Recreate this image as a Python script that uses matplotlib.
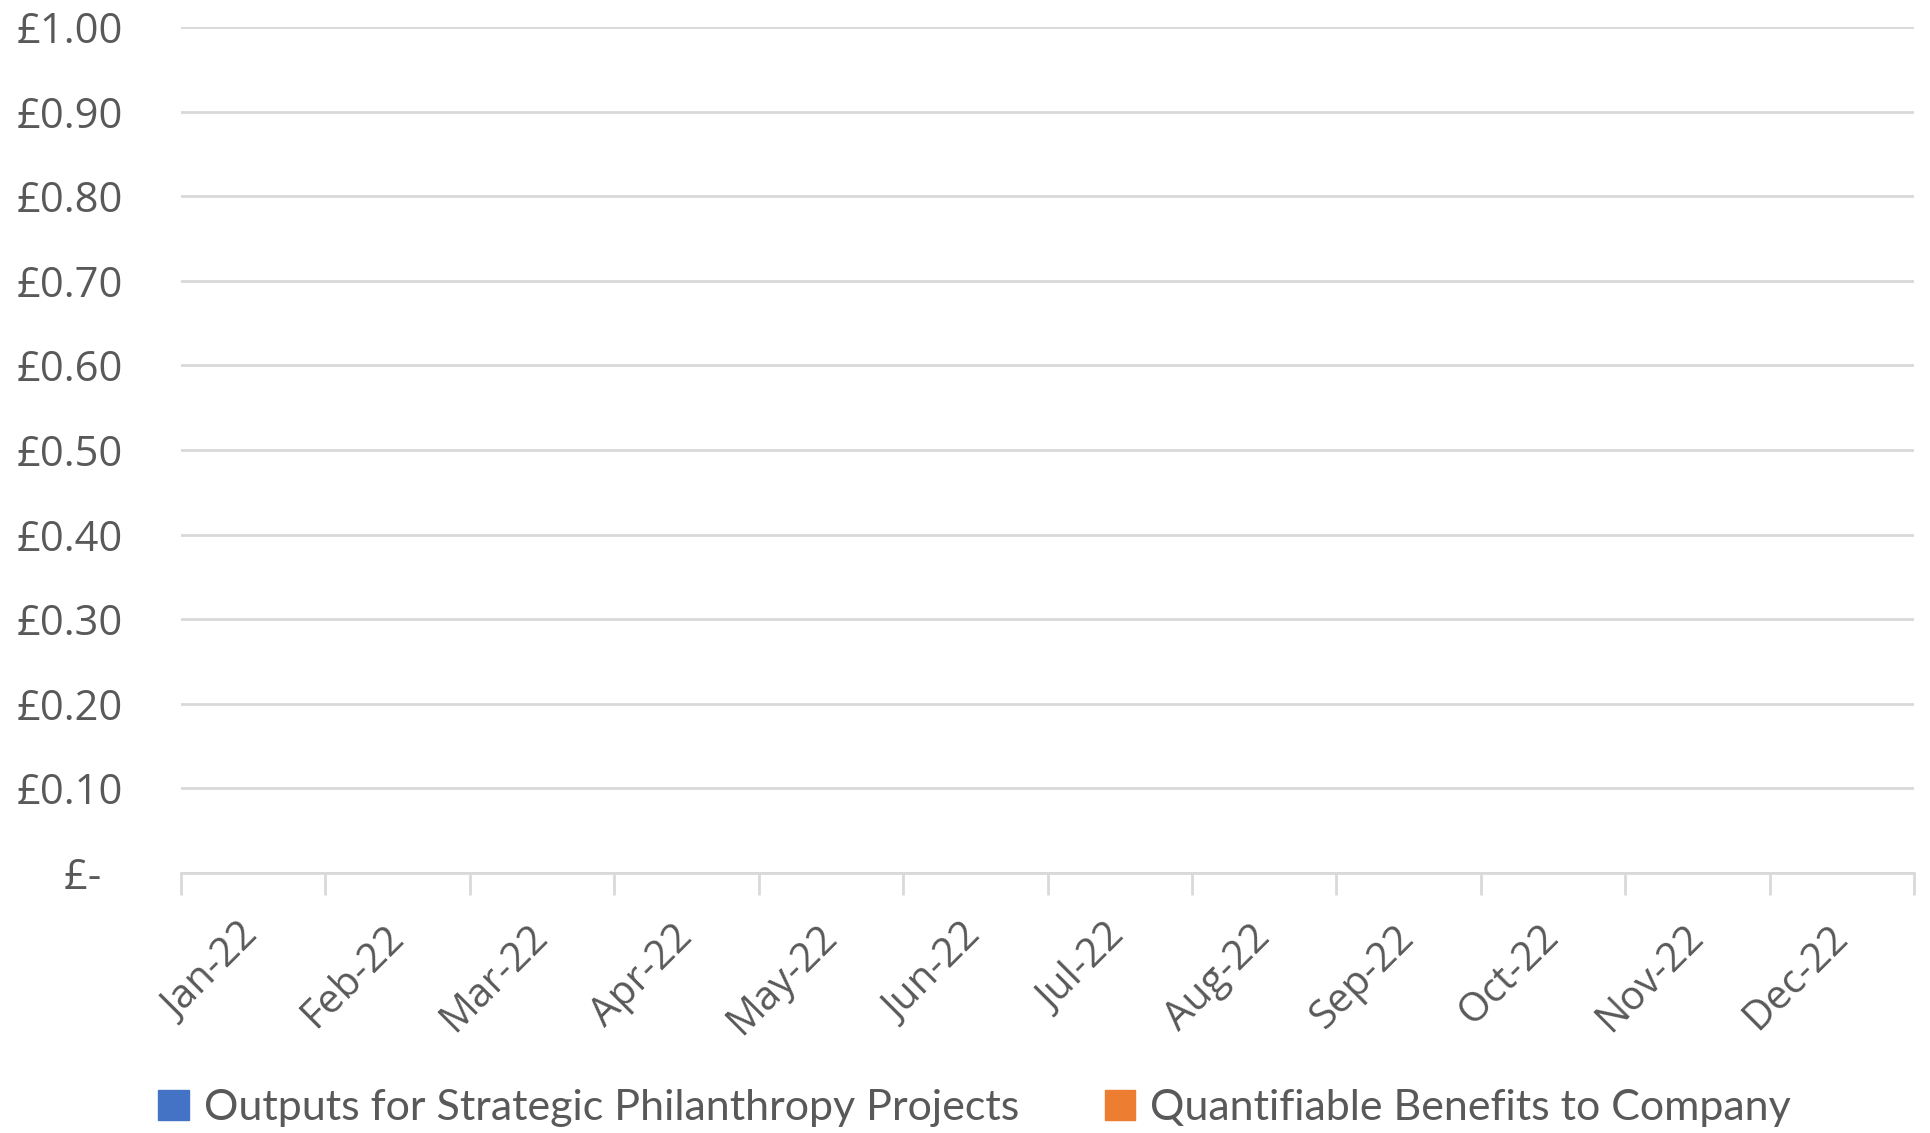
import matplotlib.pyplot as plt
import numpy as np
from matplotlib.patches import Patch
from matplotlib.ticker import FuncFormatter, FixedLocator

months = ["Jan-22", "Feb-22", "Mar-22", "Apr-22", "May-22", "Jun-22",
          "Jul-22", "Aug-22", "Sep-22", "Oct-22", "Nov-22", "Dec-22"]
series_names = ["Outputs for Strategic Philanthropy Projects", "Quantifiable Benefits to Company"]
outputs = [0, 0, 0, 0, 0, 0, 0, 0, 0, 0, 0, 0]
benefits = [0, 0, 0, 0, 0, 0, 0, 0, 0, 0, 0, 0]
colors = ["#4472C4", "#ED7D31"]

text_color = "#595959"
grid_color = "#D9D9D9"

fig = plt.figure(figsize=(19.3, 11.33), dpi=100)
ax = fig.add_axes([181 / 1930, 1 - 873 / 1133, (1914 - 181) / 1930, (873 - 27) / 1133])

x = np.arange(len(months))
w = 0.35
ax.bar(x - w / 2, outputs, w, color=colors[0])
ax.bar(x + w / 2, benefits, w, color=colors[1])

ax.set_xlim(-0.5, len(months) - 0.5)
ax.set_ylim(0, 1.0)
ax.set_yticks(np.arange(0, 1.01, 0.1))


def money(v, pos):
    # accounting style: zero shown as a dash
    if abs(v) < 1e-9:
        return "£-  "
    return f"£{v:.2f}"


ax.yaxis.set_major_formatter(FuncFormatter(money))
ax.grid(axis="y", color=grid_color, linewidth=2)
ax.set_axisbelow(True)

# ticks between categories, labels at centres
ax.xaxis.set_major_locator(FixedLocator(np.arange(-0.5, len(months), 1.0)))
ax.xaxis.set_major_formatter(FuncFormatter(lambda v, p: ""))
ax.xaxis.set_minor_locator(FixedLocator(x))
ax.set_xticklabels(months, minor=True, rotation=45, ha="right", va="center",
                   rotation_mode="anchor", fontsize=29, color=text_color,
                   family="Open Sans")
ax.tick_params(axis="x", which="major", length=16, width=2, color=grid_color)
ax.tick_params(axis="x", which="minor", length=0, pad=42)
ax.tick_params(axis="y", length=0, pad=42, labelsize=30, labelcolor=text_color,
               labelfontfamily="Open Sans")

for s in ["top", "right", "left"]:
    ax.spines[s].set_visible(False)
ax.spines["bottom"].set_color(grid_color)
ax.spines["bottom"].set_linewidth(2)

handles = [Patch(color=c, label=n) for c, n in zip(colors, series_names)]
fig.legend(handles=handles, loc="center", bbox_to_anchor=(0.505, 1 - 1108 / 1133),
           ncol=2, frameon=False, handlelength=0.7, handleheight=0.7,
           handletextpad=0.35, columnspacing=2.0,
           prop={"family": "Lato", "size": 31}, labelcolor=text_color)

fig.savefig("out.png", dpi=100)
plt.close(fig)
